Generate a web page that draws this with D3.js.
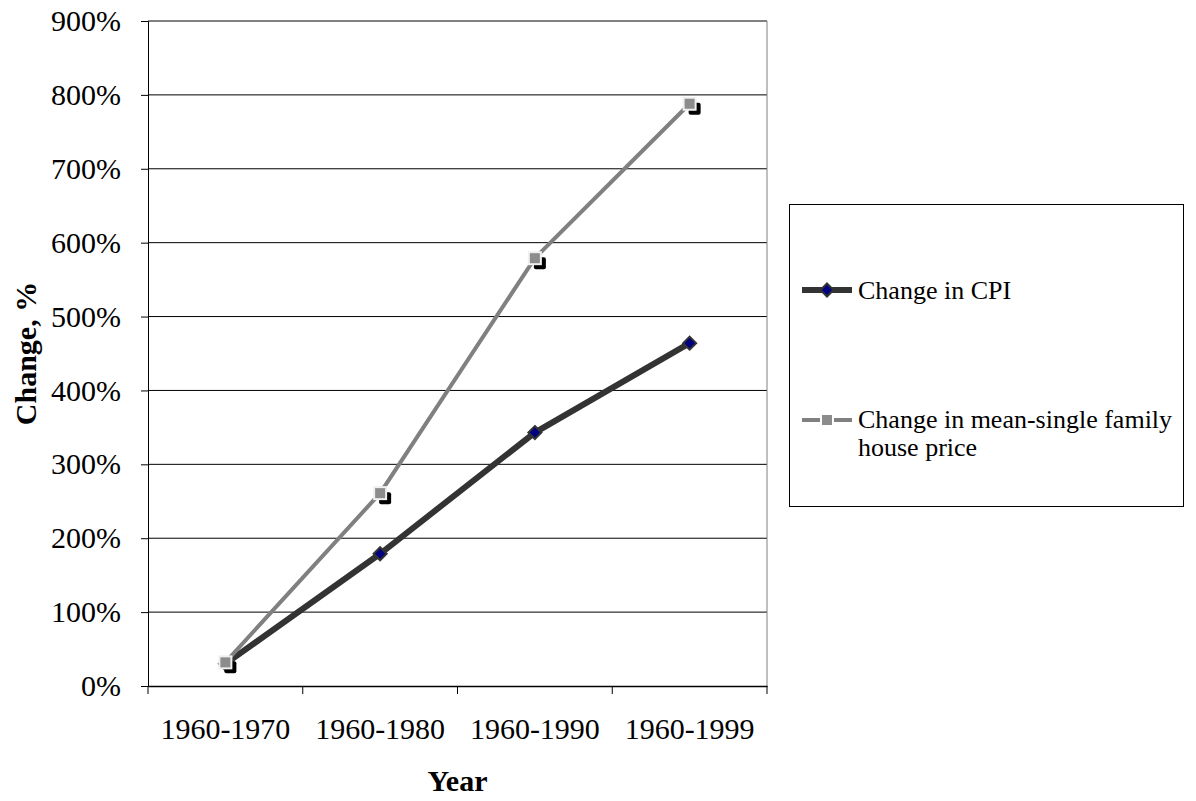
<!DOCTYPE html>
<html>
<head>
<meta charset="utf-8">
<script src="https://cdn.jsdelivr.net/npm/d3@7"></script>
<style>
 body { margin: 0; background: #fff; }
 text { font-family: "Liberation Serif", "Times New Roman", serif; }
</style>
</head>
<body>
<script>
const width = 1196;
const height = 801;

// data
var categories = ["1960-1970", "1960-1980", "1960-1990", "1960-1999"];
var cpiChange = [30, 179, 343, 464];
var houseChange = [32, 261, 579, 788];
var yTicks = [0, 100, 200, 300, 400, 500, 600, 700, 800, 900];

var margin = {left: 148, right: 767, top: 21, bottom: 686};

var svg = d3.select("body")
 .append("svg")
 .attr("width", width)
 .attr("height", height);

//Scales
var xscale = d3.scaleBand()
 .domain(categories)
 .range([margin.left, margin.right]);

var yscale = d3.scaleLinear()
 .domain([0, 900])
 .range([margin.bottom, margin.top]);

//Gridlines
svg.append("g")
 .selectAll("line")
 .data(yTicks.slice(1))
 .enter().append("line")
 .attr("x1", margin.left)
 .attr("x2", margin.right)
 .attr("y1", d => yscale(d))
 .attr("y2", d => yscale(d))
 .attr("stroke", "#000")
 .attr("stroke-width", 1);

//Right border of plot area
svg.append("line")
 .attr("x1", margin.right).attr("x2", margin.right)
 .attr("y1", margin.top).attr("y2", margin.bottom)
 .attr("stroke", "#808080");

//Y axis
var y_axis = d3.axisLeft(yscale)
 .tickValues(yTicks)
 .tickFormat(d => d + "%")
 .tickSize(7)
 .tickPadding(20);

var gy = svg.append("g")
 .attr("transform", "translate(" + margin.left + ",0)")
 .call(y_axis);
gy.attr("font-size", 30).attr("font-family", "Liberation Serif");
gy.select(".domain").attr("stroke", "#000");
gy.selectAll(".tick line").attr("stroke", "#000");
gy.selectAll("text").attr("fill", "#000");

//X axis
var x_axis = d3.axisBottom(xscale)
 .tickSize(0)
 .tickPadding(32);

var gx = svg.append("g")
 .attr("transform", "translate(0," + margin.bottom + ")")
 .call(x_axis);
gx.attr("font-size", 30).attr("font-family", "Liberation Serif");
gx.select(".domain").attr("stroke", "#000").attr("stroke-width", 1.5);
gx.selectAll("text").attr("fill", "#000");

//Tick marks at category boundaries
svg.append("g")
 .selectAll("line")
 .data(xscale.domain().concat(["end"]))
 .enter().append("line")
 .attr("x1", (d, i) => margin.left + i * xscale.step())
 .attr("x2", (d, i) => margin.left + i * xscale.step())
 .attr("y1", margin.bottom)
 .attr("y2", margin.bottom + 8)
 .attr("stroke", "#000");

//Axis titles
svg.append("text")
 .attr("x", (margin.left + margin.right) / 2)
 .attr("y", 791)
 .attr("text-anchor", "middle")
 .attr("font-size", 30)
 .attr("font-weight", "bold")
 .text("Year");

svg.append("text")
 .attr("transform", "translate(36," + ((margin.top + margin.bottom) / 2) + ") rotate(-90)")
 .attr("text-anchor", "middle")
 .attr("font-size", 30)
 .attr("font-weight", "bold")
 .text("Change, %");

var cx = d => xscale(d) + xscale.bandwidth() / 2;

var line = d3.line()
 .x((d, i) => cx(categories[i]))
 .y(d => yscale(d));

var diamond = "M0,-6.5L6.5,0L0,6.5L-6.5,0Z";

//CPI series
svg.append("path")
 .datum(cpiChange)
 .attr("d", line)
 .attr("fill", "none")
 .attr("stroke", "#333333")
 .attr("stroke-width", 6);

svg.append("g")
 .selectAll("path")
 .data(cpiChange)
 .enter().append("path")
 .attr("d", diamond)
 .attr("transform", (d, i) => "translate(" + cx(categories[i]) + "," + yscale(d) + ")")
 .attr("fill", "#000080")
 .attr("stroke", "#333")
 .attr("stroke-width", 2);

//House price series
svg.append("path")
 .datum(houseChange)
 .attr("d", line)
 .attr("fill", "none")
 .attr("stroke", "#808080")
 .attr("stroke-width", 4);

//House markers with black shadow
var hm = svg.append("g")
 .selectAll("g")
 .data(houseChange)
 .enter().append("g")
 .attr("transform", (d, i) => "translate(" + cx(categories[i]) + "," + yscale(d) + ")");

hm.append("rect")
 .attr("x", -1).attr("y", -1)
 .attr("width", 12).attr("height", 12)
 .attr("rx", 2)
 .attr("fill", "#000");

hm.append("rect")
 .attr("x", -6).attr("y", -6)
 .attr("width", 12).attr("height", 12)
 .attr("fill", "#8c8c8c")
 .attr("stroke", "#f0f0f0")
 .attr("stroke-width", 2);

//Legend
var legend = svg.append("g");
legend.append("rect")
 .attr("x", 789.5).attr("y", 204.5)
 .attr("width", 394).attr("height", 302)
 .attr("fill", "#fff")
 .attr("stroke", "#000");

legend.append("line")
 .attr("x1", 802).attr("x2", 852)
 .attr("y1", 290).attr("y2", 290)
 .attr("stroke", "#333").attr("stroke-width", 6);
legend.append("path")
 .attr("d", diamond)
 .attr("transform", "translate(827,290)")
 .attr("fill", "#000080")
 .attr("stroke", "#333")
 .attr("stroke-width", 2);
legend.append("text")
 .attr("x", 858).attr("y", 299)
 .attr("font-size", 26)
 .text("Change in CPI");

legend.append("line")
 .attr("x1", 802).attr("x2", 852)
 .attr("y1", 420).attr("y2", 420)
 .attr("stroke", "#808080").attr("stroke-width", 4)
 .attr("stroke-dasharray", "18,4,6,4,18");
legend.append("rect")
 .attr("x", 822).attr("y", 415)
 .attr("width", 10).attr("height", 10)
 .attr("fill", "#8c8c8c");
legend.append("text")
 .attr("x", 858).attr("y", 428)
 .attr("font-size", 26)
 .text("Change in mean-single family");
legend.append("text")
 .attr("x", 858).attr("y", 456)
 .attr("font-size", 26)
 .text("house price");
</script>
</body>
</html>
